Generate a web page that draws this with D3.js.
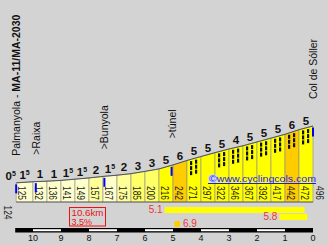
<!DOCTYPE html>
<html>
<head>
<meta charset="utf-8">
<script src="https://cdn.jsdelivr.net/npm/d3@7"></script>
<style>
  body { margin: 0; background: #d3d3d3; }
  text { font-family: "Liberation Sans", Arial, sans-serif; }
</style>
</head>
<body>
<div id="chart"></div>
<script>
var width = 328, height = 245;

// km to the top at each column edge, and altitude there
var kms = [10.6, 10, 9.5, 9, 8.5, 8, 7.5, 7, 6.5, 6, 5.5, 5, 4.5, 4, 3.5, 3, 2.5, 2, 1.5, 1, 0.5, 0];
var alts = [125, 132, 136, 141, 149, 157, 167, 175, 185, 200, 216, 242, 271, 297, 322, 346, 367, 392, 417, 442, 472, 496];
// gradient labels (first one sits before the start)
var grads = ["0.5", "1.5", "1", "1", "1.5", "1.5", "2", "1.5", "2", "3", "3", "5", "6", "5", "5", "5", "4", "5", "5", "5", "6", "5"];
var startAlt = 124, endAlt = 496, totalKm = "10.6km", avgGrad = "3.5%";
var kmTicks = [10, 9, 8, 7, 6, 5, 4, 3, 2, 1, 0];
var hatched = [12, 14, 15, 16, 17, 18, 19, 20];

var places = [
  { km: 10.6, name: "Palmanyola - ", bold: "MA-11/MA-2030" },
  { km: 9.9, name: ">Raixa" },
  { km: 7.45, name: ">Bunyola" },
  { km: 5.05, name: ">túnel" },
  { km: 0, name: "Col de Sóller" }
];

// steepest stretches
var steep = [
  { pct: "5.1", from: 5.3, to: 0.3, color: "#ffff00" },
  { pct: "5.8", from: 1.2, to: 0.2, color: "#ffff00" },
  { pct: "6.9", from: 4.95, to: 4.75, color: "#ffcc00" }
];

var svg = d3.select("#chart")
            .append("svg")
            .attr("width", width)
            .attr("height", height)
            .style("display", "block");

svg.append("rect")
   .attr("width", width)
   .attr("height", height)
   .attr("fill", "#d3d3d3");

var x = d3.scaleLinear().domain([10, 0]).range([33, 313]);
var y = d3.scaleLinear().domain([0, 500]).range([202, 125.4]);
var altAt = d3.scaleLinear().domain(kms).range(alts);
var color = d3.scaleThreshold()
              .domain([2, 3, 4, 6])
              .range(["#ffffcc", "#ffff99", "#ffff66", "#ffff00", "#ffcc00"]);

var base = y(0);
var cols = d3.range(kms.length - 1);

// --- columns
cols.forEach(function (i) {
  var x0 = x(kms[i]), x1 = x(kms[i + 1]);
  svg.append("path")
     .attr("d", "M" + x0 + "," + base + "L" + x0 + "," + y(alts[i]) +
                "L" + x1 + "," + y(alts[i + 1]) + "L" + x1 + "," + base + "Z")
     .attr("fill", color(+grads[i + 1]))
     .attr("stroke", "#8a8a8a")
     .attr("stroke-width", 0.6);
});

// --- black ladders on the steep part
hatched.forEach(function (i) {
  var x0 = x(kms[i]);
  [3, 8].forEach(function (off) {
    var bx = x0 + off;
    var top = y(altAt(x.invert(bx))) + 1.5;
    d3.range(3).forEach(function (k) {
      svg.append("rect")
         .attr("x", bx)
         .attr("y", top + k * 5)
         .attr("width", 2.2)
         .attr("height", 4)
         .attr("fill", "#111");
    });
  });
});

// --- top outline
svg.append("path")
   .attr("d", d3.line().x(function (d, i) { return x(kms[i]); })
                       .y(function (d) { return y(d); })(alts))
   .attr("fill", "none")
   .attr("stroke", "#555")
   .attr("stroke-width", 1);

svg.append("line")
   .attr("x1", x(kms[0])).attr("x2", x(0))
   .attr("y1", base).attr("y2", base)
   .attr("stroke", "#666");

// --- altitude labels inside columns
function altLabel(tx, ty, v) {
  svg.append("text")
     .attr("transform", "translate(" + tx + "," + ty + ") rotate(90)")
     .attr("font-size", 10)
     .attr("textLength", 14)
     .attr("lengthAdjust", "spacingAndGlyphs")
     .attr("fill", "#222")
     .text(v);
}
cols.forEach(function (i) { altLabel(x(kms[i]) + 1.5, 186, alts[i]); });
altLabel(x(0) + 2.5, 186, endAlt);
altLabel(x(kms[0]) - 12, 205.5, startAlt);

// --- gradient numbers over the columns
grads.forEach(function (g, i) {
  var cx, a;
  if (i == 0) {
    cx = (x(kms[0] + 0.5) + x(kms[0])) / 2 + 1.5;
    a = startAlt;
  } else {
    cx = (x(kms[i - 1]) + x(kms[i])) / 2;
    a = (alts[i - 1] + alts[i]) / 2;
  }
  var parts = g.split(".");
  var t = svg.append("text")
             .attr("x", cx)
             .attr("y", y(a) - 3)
             .attr("text-anchor", "middle")
             .attr("font-family", "DejaVu Sans")
             .attr("font-weight", "bold")
             .attr("font-size", 11.5)
             .attr("fill", "#111");
  t.append("tspan").text(parts[0]);
  if (parts[1]) {
    t.append("tspan").attr("font-size", 7).attr("dy", -4).text(parts[1]);
  }
});

// --- place markers and names
places.forEach(function (p) {
  var px = x(p.km), py = y(altAt(p.km));
  svg.append("rect")
     .attr("x", px - 1)
     .attr("y", py + 1.5)
     .attr("width", 2)
     .attr("height", 9)
     .attr("fill", "#0000ff");

  var t = svg.append("text")
             .attr("transform", "translate(" + (px + 4) + "," + (py - 27) + ") rotate(-90)")
             .attr("font-size", 10.5)
             .attr("fill", "#111");
  t.append("tspan").text(p.name);
  if (p.bold) t.append("tspan").attr("font-weight", "bold").text(p.bold);
});

// --- copyright
svg.append("rect")
   .attr("x", 208.5).attr("y", 174.5)
   .attr("width", 9).attr("height", 8)
   .attr("rx", 3)
   .attr("fill", "#c8d4ff");
svg.append("text")
   .attr("x", 209)
   .attr("y", 182)
   .attr("font-family", "DejaVu Sans")
   .attr("font-size", 9)
   .attr("textLength", 107)
   .attr("lengthAdjust", "spacingAndGlyphs")
   .attr("fill", "#1a1aff")
   .text("©www.cyclingcols.com");
svg.append("line")
   .attr("x1", 208).attr("x2", 316)
   .attr("y1", 183.5).attr("y2", 183.5)
   .attr("stroke", "#1a1aff");

// --- total distance / average box
svg.append("rect")
   .attr("x", 69.5).attr("y", 207.5)
   .attr("width", 36).attr("height", 18.5)
   .attr("fill", "none")
   .attr("stroke", "#ee1111");
svg.append("text")
   .attr("x", 71.5).attr("y", 215.5)
   .attr("font-size", 9)
   .attr("textLength", 32)
   .attr("lengthAdjust", "spacingAndGlyphs")
   .attr("fill", "#ee1111")
   .text(totalKm);
svg.append("text")
   .attr("x", 71.5).attr("y", 224.5)
   .attr("font-size", 9)
   .attr("fill", "#ee1111")
   .text(avgGrad);

// --- steepest stretches
steep.forEach(function (s, i) {
  var x0 = x(s.from), x1 = x(s.to), by = 207 + i * 7;
  svg.append("rect")
     .attr("x", x0).attr("y", by)
     .attr("width", x1 - x0).attr("height", 6)
     .attr("fill", s.color);
  var right = (x1 - x0) < 20;
  svg.append("text")
     .attr("x", right ? x1 + 3 : x0 - 2)
     .attr("y", by + 6)
     .attr("text-anchor", right ? "start" : "end")
     .attr("font-size", 10)
     .attr("fill", "#ee3333")
     .text(s.pct);
});

// --- km scale
svg.append("rect")
   .attr("x", x(kms[0]) - 1).attr("y", 228)
   .attr("width", x(0) - x(kms[0]) + 1).attr("height", 4.5)
   .attr("fill", "#000");
kmTicks.forEach(function (k, i) {
  if (i % 2 == 0 && k > 0) {
    svg.append("rect")
       .attr("x", x(k)).attr("y", 229.2)
       .attr("width", x(k - 1) - x(k)).attr("height", 2)
       .attr("fill", "#fff");
  }
  svg.append("text")
     .attr("x", x(k))
     .attr("y", 240.5)
     .attr("text-anchor", "middle")
     .attr("font-size", 9)
     .attr("fill", "#111")
     .text(k);
});
</script>
</body>
</html>
